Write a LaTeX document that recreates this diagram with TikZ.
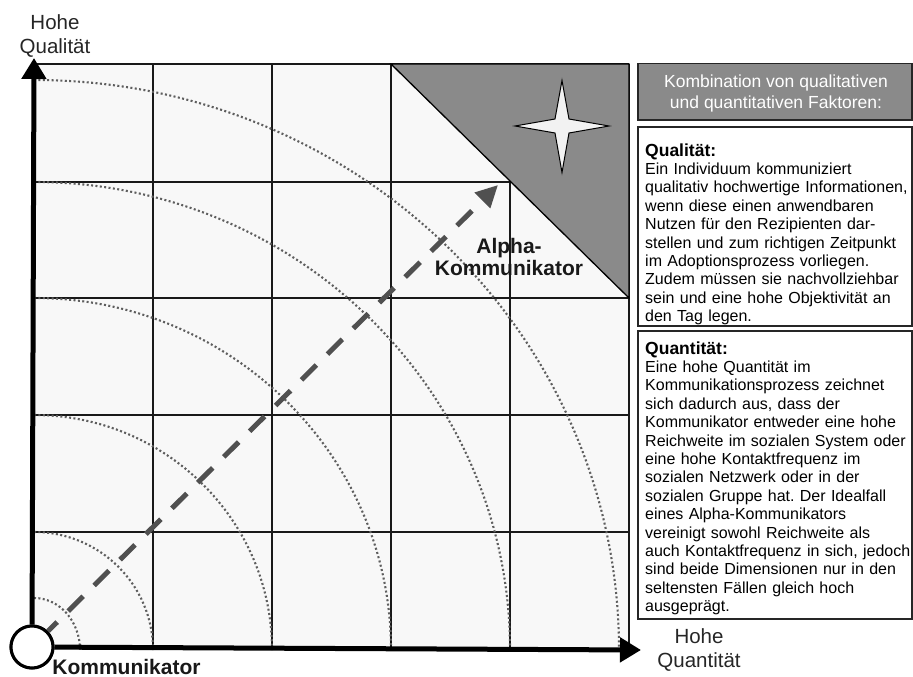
\documentclass[tikz,border=0pt]{standalone}
\usepackage{fontspec}
\setmainfont{Liberation Sans}
\usetikzlibrary{arrows.meta}
\frenchspacing
\definecolor{cellbg}{HTML}{F8F8F8}
\definecolor{darkfill}{HTML}{8A8A8A}
\definecolor{dashcol}{HTML}{505050}
\definecolor{dotcol}{HTML}{5E5E5E}
\definecolor{starfill}{HTML}{F2F2F2}
\begin{document}
\begin{tikzpicture}[x=1pt,y=-1pt,
  gridline/.style={line width=1.3pt, draw=black!90},
  arcline/.style={draw=dotcol, line width=2.1pt, dash pattern=on 2pt off 2.4pt},
  axisline/.style={line width=5pt, draw=black, -{Triangle[length=21pt,width=24pt]}},
  dasharrow/.style={line width=5pt, draw=dashcol, dash pattern=on 21pt off 15.5pt, dash phase=8pt, -{Triangle[length=22pt,width=21pt,fill=dashcol]}},
  infobox/.style={draw=black!85, line width=1.5pt, fill=white, minimum width=274pt, inner sep=0pt, anchor=north west},
  bodytext/.style={text width=266pt, align=left, inner sep=0pt, anchor=north west, font=\fontsize{16}{18.4}\selectfont},
  axislabel/.style={align=center, inner sep=0pt, font=\fontsize{20.5}{24}\selectfont, text=black!85},
  boldlabel/.style={font=\bfseries\fontsize{21}{21}\selectfont, align=center, inner sep=0pt, text=black!90}
]
\useasboundingbox (0,0) rectangle (913,677);
% grid background
\fill[cellbg] (34,64) rectangle (629,650);
\foreach \x in {153,272,391,510,629} \draw[gridline] (\x,64) -- (\x,650);
\foreach \y in {64,182,298,415,532} \draw[gridline] (34,\y) -- (629,\y);
% dark triangle
\draw[fill=darkfill, line width=1.3pt] (391,64) -- (629,64) -- (629,298) -- cycle;
% dotted arcs
\foreach \a/\b in {46/52, 119/118, 238/235, 357/352, 476/468, 585/570}
  \draw[arcline] (34,650-\b) arc[start angle=-90, end angle=0, x radius=\a, y radius=\b];
% star
\draw[fill=starfill, line width=1pt] (562,80.5) -- (569,119) -- (609,126) -- (569,133) -- (562,172.5) -- (555,133) -- (515,126) -- (555,119) -- cycle;
% origin and axes
\node[circle, draw=black, line width=3pt, fill=white, minimum size=42pt, inner sep=0pt] (o) at (32,647) {};
\coordinate (ytip) at (34,58);
\coordinate (xtip) at (641,650);
\coordinate (dtip) at (498,185);
\draw[dasharrow] (o) -- (dtip);
\draw[axisline] (o) -- (ytip);
\draw[axisline] (o) -- (xtip);
\node[circle, draw=black, line width=3pt, fill=white, minimum size=42pt, inner sep=0pt] (o2) at (32,647) {};
% labels
\node[axislabel] (ql) at (55,37) {\strut Hohe\\ \strut Qualität};
\node[axislabel] (qn) at (699,651) {\strut Hohe\\ \strut Quantität};
\node[boldlabel, anchor=base] (kl) at (126.5,674) {Kommunikator};
\node[boldlabel] (al) at (509,260) {\strut Alpha-\\ \strut Kommunikator};
% right boxes
\node[infobox, fill=darkfill, minimum height=56pt] (hbox) at (637,63) {};
\node[align=center, inner sep=0pt, text=white, font=\fontsize{17.5}{21}\selectfont] (htext) at (776,93.5) {\strut Kombination von qualitativen\\ \strut und quantitativen Faktoren:};
\node[infobox, minimum height=199pt] (qbox) at (637,126) {};
\node[bodytext] (qtext) at (645,143) {\strut{\fontsize{17.5}{18.4}\selectfont\textbf{Qualität:}}\\
Ein Individuum kommuniziert\\
qualitativ hochwertige Informationen,\\
wenn diese einen anwendbaren\\
Nutzen für den Rezipienten dar-\\
stellen und zum richtigen Zeitpunkt\\
im Adoptionsprozess vorliegen.\\
Zudem müssen sie nachvollziehbar\\
sein und eine hohe Objektivität an\\
den Tag legen.};
\node[infobox, minimum height=288pt] (nbox) at (637,330) {};
\node[bodytext] (ntext) at (645,341) {\strut{\fontsize{17.5}{18.4}\selectfont\textbf{Quantität:}}\\
Eine hohe Quantität im\\
Kommunikationsprozess zeichnet\\
sich dadurch aus, dass der\\
Kommunikator entweder eine hohe\\
Reichweite im sozialen System oder\\
eine hohe Kontaktfrequenz im\\
sozialen Netzwerk oder in der\\
sozialen Gruppe hat. Der Idealfall\\
eines Alpha-Kommunikators\\
vereinigt sowohl Reichweite als\\
auch Kontaktfrequenz in sich, jedoch\\
sind beide Dimensionen nur in den\\
seltensten Fällen gleich hoch\\
ausgeprägt.};
\end{tikzpicture}
\end{document}
